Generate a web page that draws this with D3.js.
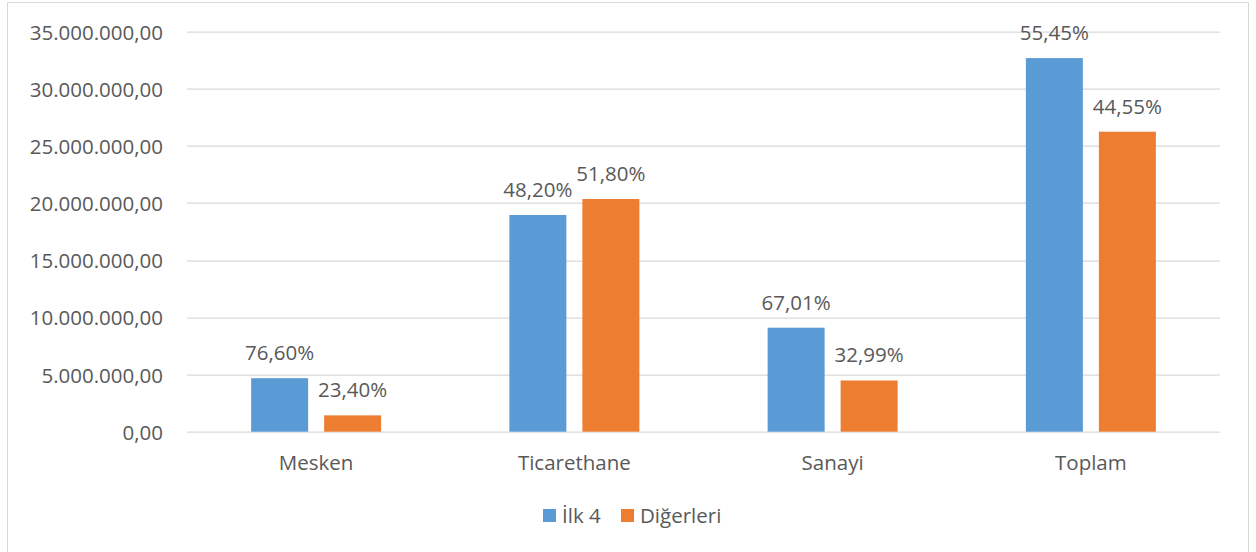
<!DOCTYPE html>
<html>
<head>
<meta charset="utf-8">
<script src="https://cdn.jsdelivr.net/npm/d3@7"></script>
<style>
  body { margin: 0; background: #fff; }
  text { font-family: "Open Sans", sans-serif; fill: #595959; }
</style>
</head>
<body>
<svg class="chart"></svg>
<script>
// data
const categories = ["Mesken", "Ticarethane", "Sanayi", "Toplam"];
const seriesNames = ["İlk 4", "Diğerleri"];
const ilk4 = [4680000, 18960000, 9100000, 32690000];
const digerleri = [1430000, 20360000, 4480000, 26250000];
const ilk4Labels = ["76,60%", "48,20%", "67,01%", "55,45%"];
const digerLabels = ["23,40%", "51,80%", "32,99%", "44,55%"];
const yTicks = [0, 5000000, 10000000, 15000000, 20000000, 25000000, 30000000, 35000000];

const colors = ["#5b9bd5", "#ed7d31"];

const canvas = {width: 1256, height: 552};
const margin = {top: 31.7, left: 187, right: 36, bottom: 120.3};
const dims = {
    width: canvas.width - margin.left - margin.right,
    height: canvas.height - margin.top - margin.bottom
};
const fontSize = "20.5px";

const svg = d3.select(".chart")
    .attr("width", canvas.width)
    .attr("height", canvas.height);

// outer frame
svg.append("rect")
    .attr("x", 7.5).attr("y", 2.5)
    .attr("width", 1241).attr("height", 560)
    .attr("fill", "#fff")
    .attr("stroke", "#d9d9d9");

const chart = svg.append("g")
    .attr("transform", "translate(" + margin.left + "," + margin.top + ")");

const y = d3.scaleLinear().domain([0, 35000000]).range([dims.height, 0]);
const x0 = d3.scaleBand().domain(categories).range([0, dims.width]).paddingInner(0).paddingOuter(0);
const barW = 57, barGap = 16;

const fmt = d3.formatLocale({decimal: ",", thousands: ".", grouping: [3], currency: ["", ""]}).format(",.2f");

// grid lines
chart.selectAll(".grid")
    .data(yTicks)
    .enter().append("line")
    .attr("x1", 0).attr("x2", dims.width)
    .attr("y1", d => Math.round(y(d)) + 0.5)
    .attr("y2", d => Math.round(y(d)) + 0.5)
    .attr("stroke", "#d9d9d9")
    .attr("stroke-width", 1.3);

// y axis labels
chart.selectAll(".ylab")
    .data(yTicks)
    .enter().append("text")
    .attr("x", -24)
    .attr("y", d => y(d) + 8)
    .attr("text-anchor", "end")
    .style("font-size", fontSize)
    .text(d => fmt(d));

const series = [
    {name: seriesNames[0], values: ilk4, labels: ilk4Labels, color: colors[0], off: -barGap / 2 - barW},
    {name: seriesNames[1], values: digerleri, labels: digerLabels, color: colors[1], off: barGap / 2}
];

series.forEach(s => {
    const g = chart.append("g");
    g.selectAll("rect")
        .data(categories)
        .enter().append("rect")
        .attr("x", (d) => x0(d) + x0.bandwidth() / 2 + s.off)
        .attr("width", barW)
        .attr("y", (d, i) => y(s.values[i]))
        .attr("height", (d, i) => dims.height - y(s.values[i]))
        .attr("fill", s.color);
    g.selectAll("text")
        .data(categories)
        .enter().append("text")
        .attr("x", (d) => x0(d) + x0.bandwidth() / 2 + s.off + barW / 2)
        .attr("y", (d, i) => y(s.values[i]) - 18)
        .attr("text-anchor", "middle")
        .style("font-size", fontSize)
        .text((d, i) => s.labels[i]);
});

// category labels
chart.selectAll(".xlab")
    .data(categories)
    .enter().append("text")
    .attr("x", d => x0(d) + x0.bandwidth() / 2)
    .attr("y", dims.height + 38.5)
    .attr("text-anchor", "middle")
    .style("font-size", fontSize)
    .text(d => d);

// legend
const legend = svg.append("g");
const legendX = [543, 621];
series.forEach((s, i) => {
    legend.append("rect")
        .attr("x", legendX[i]).attr("y", 509)
        .attr("width", 13).attr("height", 13)
        .attr("fill", s.color);
    legend.append("text")
        .attr("x", legendX[i] + 19)
        .attr("y", 523)
        .style("font-size", fontSize)
        .text(s.name);
});
</script>
</body>
</html>
